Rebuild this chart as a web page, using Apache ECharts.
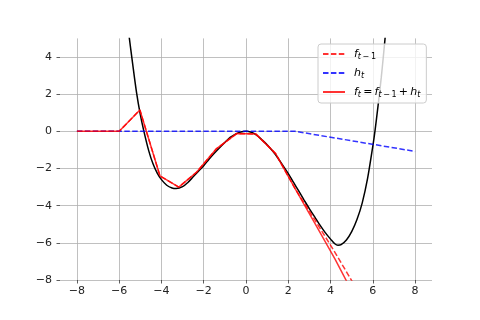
<!DOCTYPE html>
<html>
<head>
<meta charset="utf-8">
<script src="https://cdn.jsdelivr.net/npm/echarts@6/dist/echarts.min.js"></script>
<style>
html, body { margin: 0; padding: 0; background: #fff; }
#main { width: 480px; height: 320px; }
</style>
</head>
<body>
<div id="main"></div>
<script>
// true function (black)
var curveX = [-5.7, -5.62, -5.54, -5.37, -5.18, -5.0, -4.83, -4.6, -4.4, -4.2, -4.0, -3.75, -3.5, -3.3, -3.0,
    -2.75, -2.5, -2.25, -2.0, -1.75, -1.5, -1.25, -1.0, -0.75, -0.5, -0.25, 0, 0.25, 0.5, 0.75, 1.0, 1.25,
    1.5, 1.75, 2.0, 2.25, 2.5, 2.75, 3.0, 3.25, 3.5, 3.75, 4.0, 4.2, 4.35, 4.5, 4.75, 5.0, 5.25, 5.5, 5.75,
    6.0, 6.1, 6.25, 6.4, 6.5, 6.6, 6.7];
var curveY = [6.9, 6.0, 5.2, 3.7, 2.1, 0.9, 0.0, -1.05, -1.75, -2.25, -2.6, -2.9, -3.05, -3.08, -2.98,
    -2.75, -2.45, -2.15, -1.85, -1.5, -1.18, -0.88, -0.6, -0.33, -0.15, -0.04, 0, -0.05, -0.2, -0.45, -0.72, -1.05,
    -1.42, -1.85, -2.28, -2.75, -3.22, -3.7, -4.17, -4.6, -5.05, -5.45, -5.8, -6.05, -6.13, -6.1, -5.85, -5.4, -4.75, -3.85, -2.55,
    -0.8, 0, 1.4, 2.9, 4.05, 5.25, 6.5];

// f_{t-1}
var prevX = [-8, -6, -5.02, -4.07, -3.18, -2.33, -1.39, -0.44, 0.47, 1.4, 2.33, 3.26, 4.2, 5.13];
var prevY = [0, 0, 1.15, -2.4, -3.0, -2.19, -0.93, -0.12, -0.15, -1.2, -3.1, -4.77, -6.5, -8.28];
// h_t
var hX = [-8, 2.33, 8];
var hY = [0, 0, -1.08];
// f_t = f_{t-1} + h_t
var fX = [-8, -6, -5.02, -4.07, -3.18, -2.33, -1.39, -0.44, 0.47, 1.4, 2.33, 3.26, 4.2, 5.13];
var fY = [0, 0, 1.15, -2.4, -3.0, -2.19, -0.93, -0.12, -0.15, -1.2, -3.1, -4.95, -6.85, -8.87];

var xTicks = [-8, -6, -4, -2, 0, 2, 4, 6, 8];
var yTicks = [-8, -6, -4, -2, 0, 2, 4];

function pairs(xs, ys) {
    return xs.map(function (x, i) { return [x, ys[i]]; });
}
function minus(v) {
    return v < 0 ? '\u2212' + Math.abs(v) : String(v);
}

var font = 'DejaVu Sans';
var dash = [5.5, 2.4];

var myChart = echarts.init(document.getElementById('main'));
var option = {
    animation: false,
    grid: {
        left: 60,
        right: 48,
        top: 38.4,
        bottom: 40
    },
    legend: {
        orient: 'vertical',
        left: 318,
        top: 44,
        data: ['f_{t-1}', 'h_t', 'f_t'],
        itemWidth: 22,
        itemHeight: 16,
        itemGap: 5,
        padding: [3, 6, 4, 4],
        backgroundColor: 'rgba(255,255,255,0.8)',
        borderColor: '#cccccc',
        borderWidth: 1,
        borderRadius: 3,
        itemStyle: { opacity: 0 },
        formatter: function (name) {
            if (name === 'f_{t-1}') return '{i|f}{s|t}{sn|\u2009\u2212\u20091}';
            if (name === 'h_t') return '{i|h}{s|t}';
            return '{i|f}{s|t}{n|\u2009=\u2009}{i|f}{s|t}{sn|\u2009\u2212\u20091}{n|\u2009+\u2009}{i|h}{s|t}';
        },
        textStyle: {
            padding: [0, 0, 0, 4],
            rich: {
                i: { fontFamily: font, fontStyle: 'italic', fontSize: 11, lineHeight: 16, color: '#000' },
                n: { fontFamily: font, fontSize: 11, lineHeight: 16, color: '#000' },
                s: { fontFamily: font, fontStyle: 'italic', fontSize: 8, lineHeight: 8, padding: [6, 0, 0, 0], color: '#000' },
                sn: { fontFamily: font, fontSize: 8, lineHeight: 8, padding: [6, 0, 0, 0], color: '#000' }
            }
        }
    },
    xAxis: {
        type: 'value',
        min: -8.8,
        max: 8.8,
        axisLine: { show: false, onZero: false },
        axisTick: { show: true, length: 3.5, customValues: xTicks, lineStyle: { color: '#333', width: 0.8 } },
        axisLabel: { customValues: xTicks, margin: 6, fontFamily: font, fontSize: 11, color: '#222', formatter: minus },
        splitLine: { show: true, lineStyle: { color: '#b0b0b0', width: 0.8 } }
    },
    yAxis: {
        type: 'value',
        min: -8,
        max: 5,
        axisLine: { show: false, onZero: false },
        axisTick: { show: true, length: 3.5, customValues: yTicks, lineStyle: { color: '#333', width: 0.8 } },
        axisLabel: { customValues: yTicks, margin: 8, fontFamily: font, fontSize: 11, color: '#222', formatter: minus },
        splitLine: { show: true, lineStyle: { color: '#b0b0b0', width: 0.8 } }
    },
    series: [
        {
            name: 'true',
            type: 'line',
            data: pairs(curveX, curveY),
            smooth: 0.3,
            showSymbol: false,
            symbol: 'none',
            color: '#000',
            lineStyle: { width: 1.5, color: '#000' }
        },
        {
            name: 'f_{t-1}',
            type: 'line',
            data: pairs(prevX, prevY),
            showSymbol: false,
            symbol: 'none',
            color: 'rgba(255,0,0,0.8)',
            lineStyle: { width: 1.5, type: dash, color: 'rgba(255,0,0,0.8)' }
        },
        {
            name: 'h_t',
            type: 'line',
            data: pairs(hX, hY),
            showSymbol: false,
            symbol: 'none',
            color: 'rgba(0,0,255,0.8)',
            lineStyle: { width: 1.5, type: dash, color: 'rgba(0,0,255,0.8)' }
        },
        {
            name: 'f_t',
            type: 'line',
            data: pairs(fX, fY),
            showSymbol: false,
            symbol: 'none',
            color: 'rgba(255,0,0,0.8)',
            lineStyle: { width: 1.5, color: 'rgba(255,0,0,0.8)' }
        }
    ]
};
myChart.setOption(option);
</script>
</body>
</html>
